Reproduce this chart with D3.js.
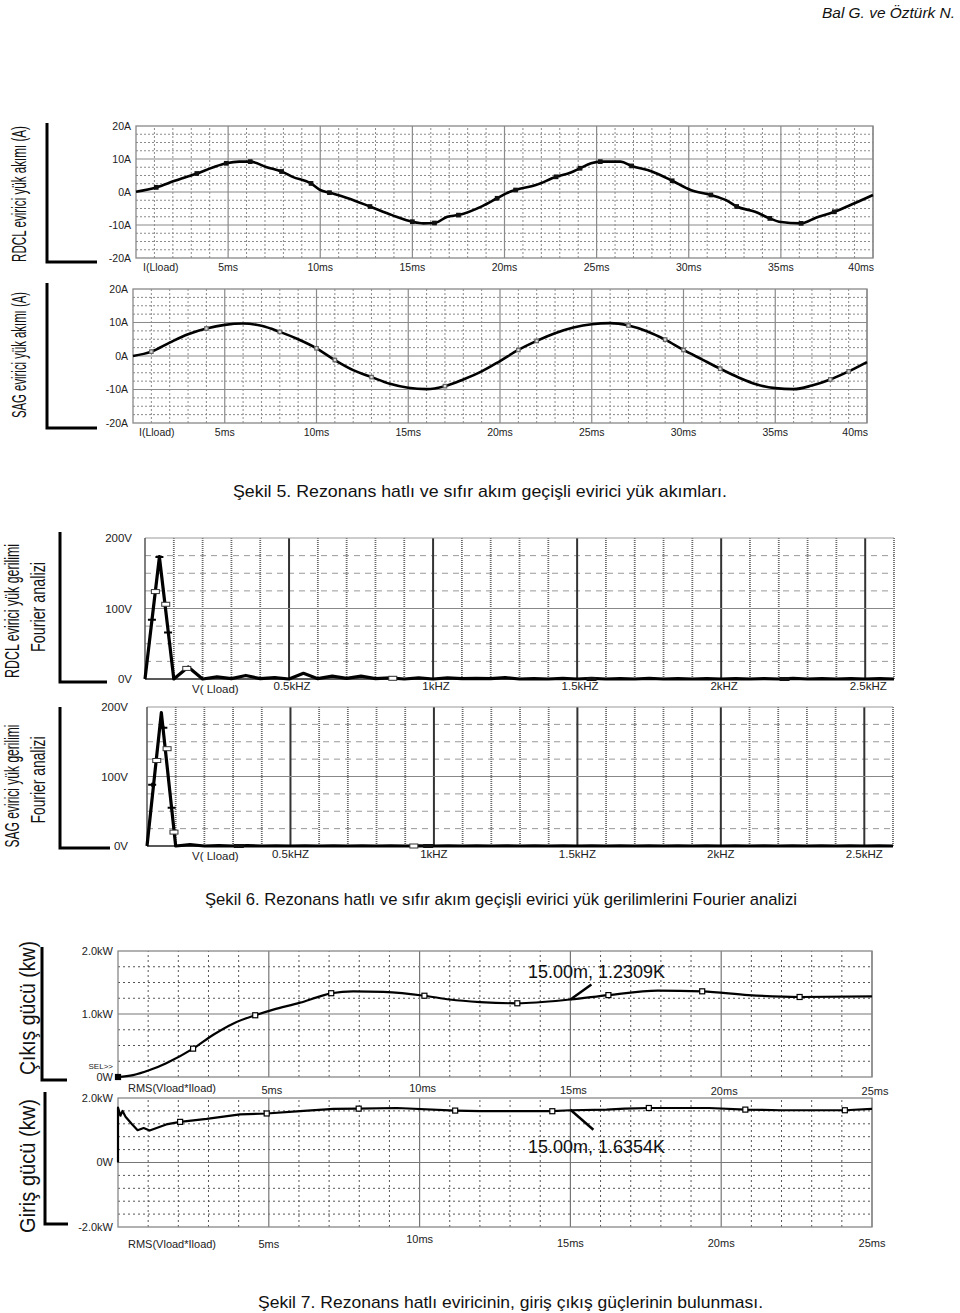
<!DOCTYPE html>
<html>
<head>
<meta charset="utf-8">
<script src="https://cdn.jsdelivr.net/npm/d3@7"></script>
<style>
  body { margin: 0; background: #fff; }
  svg { display: block; }
  text { font-family: Arial, "Liberation Sans", sans-serif; fill: #111; }
</style>
</head>
<body>
<script>
// ---- values ----

// Şekil 5, RDCL inverter load current (ms, A)
const rdclTime = [0, 1.1, 2.1, 3.3, 4.2, 4.9, 5.6, 6.2, 7.1, 7.9, 8.5, 9.5, 10, 10.5, 11.5, 12.7, 13.9, 15, 15.6, 16.2, 16.9, 17.5, 18.8,
                  19.6, 20.1, 20.6, 21.7, 22.8, 23.6, 24.1, 24.7, 25.2, 26.3, 26.9, 28, 29.1, 30.1, 31.2, 32, 32.6, 33.6, 34.4, 34.9, 36.1, 36.9, 37.9, 39, 40];
const rdclAmp  = [0.1, 1.4, 3.4, 5.6, 7.5, 8.7, 9.2, 9.2, 7.5, 6.2, 4.6, 2.6, 0.6, -0.2, -1.9, -4.4, -7, -9, -9.5, -9.4, -7.5, -7, -4.3,
                  -1.9, -0.4, 0.6, 2.1, 4.6, 5.9, 7.2, 8.7, 9.2, 9.2, 7.9, 6.2, 3.4, 0.6, -0.9, -2.4, -4.4, -6, -8, -9, -9.5, -7.8, -6, -3.4, -0.9];

// Şekil 5, SAG inverter load current (ms, A)
const sagTime = [0, 1, 2, 3, 4, 5, 6, 7, 8, 9, 10, 11, 12, 13, 14, 15, 16, 17, 18, 19, 20,
                 21, 22, 23, 24, 25, 26, 27, 28, 29, 30, 31, 32, 33, 34, 35, 36, 37, 38, 39, 40];
const sagAmp  = [0, 1.3, 4.0, 6.5, 8.2, 9.3, 9.7, 9.0, 7.2, 5.0, 2.3, -1.2, -4.2, -6.3, -8.3, -9.5, -9.9, -9.0, -7.0, -4.6, -1.5,
                 1.8, 4.5, 6.8, 8.5, 9.5, 9.8, 9.1, 7.4, 4.9, 1.8, -1.0, -3.8, -6.4, -8.5, -9.6, -9.9, -8.8, -7.0, -4.6, -1.8];
const sagMarkTime = [1, 4, 8, 10, 11, 13, 17, 21, 22, 27, 29, 30, 32, 38, 39];

// Şekil 6, Fourier spectra (kHz, V)
const freqKHz = [0, 0.05, 0.1, 0.15, 0.2, 0.25, 0.3, 0.35, 0.4, 0.45, 0.5, 0.55, 0.6, 0.65, 0.7, 0.75, 0.8, 0.85, 0.9, 0.95,
                 1, 1.05, 1.1, 1.15, 1.2, 1.25, 1.3, 1.35, 1.4, 1.45, 1.5, 1.55, 1.6, 1.65, 1.7, 1.75, 1.8, 1.85, 1.9, 1.95,
                 2, 2.05, 2.1, 2.15, 2.2, 2.25, 2.3, 2.35, 2.4, 2.45, 2.5, 2.55, 2.6];
const rdclVolt = [0, 173, 0, 17, 0, 3, 0.5, 5, 0.5, 2, 0, 8, 0.5, 4, 1, 4, 0.5, 1.5, 0, 1.5,
                  0, 1.5, 0.5, 1, 0.5, 2, 0, 0.5, 0, 1, 0, 1, 0, 0.5, 0, 1, 0, 0.5, 0, 0.5,
                  0, 0.5, 0, 0.5, 0, 1, 0, 0.5, 0, 0.5, 0, 0.5, 0];
const sagVolt  = [0, 192, 0, 2, 0, 0.5, 0, 0.5, 0, 0.3, 0, 0.3, 0, 0.3, 0, 0.3, 0, 0.3, 0, 0.3,
                  0, 0.3, 0, 0.3, 0, 0.3, 0, 0.3, 0, 0.3, 0, 0.3, 0, 0.3, 0, 0.3, 0, 0.3, 0, 0.3,
                  0, 0.3, 0, 0.3, 0, 0.3, 0, 0.3, 0, 0.3, 0, 0.3, 0];
// probe markers on the spectra: [kHz, V, kind]
const rdclSpecMarks = [[0.024, 84, "plus"], [0.036, 124, "box"], [0.05, 173, "plus"], [0.072, 106, "box"], [0.08, 66, "plus"], [0.145, 15, "box"], [0.86, 1, "box"], [1.55, 0, "bar"], [2.22, 0, "bar"]];
const sagSpecMarks  = [[0.018, 88, "plus"], [0.034, 123, "box"], [0.057, 170, "plus"], [0.07, 140, "box"], [0.086, 55, "plus"], [0.094, 20, "box"], [0.32, 0, "bar"], [0.93, 0, "box"], [0.98, 0, "bar"]];

// Şekil 7, RMS power (ms, kW)
const outTime = [0, 0.5, 1.05, 1.6, 2.49, 3.16, 3.83, 4.55, 5.15, 6.04, 6.7, 7.07, 7.8, 8.8, 10.16, 11, 12, 13.24, 15, 16.26, 17.9, 19.37, 20.9, 22.6, 25];
const outKW   = [0, 0.03, 0.11, 0.22, 0.45, 0.67, 0.85, 0.98, 1.07, 1.18, 1.28, 1.33, 1.36, 1.35, 1.29, 1.23, 1.19, 1.17, 1.23, 1.30, 1.37, 1.36, 1.30, 1.27, 1.28];
const outMarkTime = [0, 2.49, 4.55, 7.07, 10.16, 13.24, 16.26, 19.37, 22.6];
const inTime = [0, 0, 0.08, 0.15, 0.25, 0.45, 0.65, 0.85, 1.05, 1.6, 2.06, 2.94, 4.05, 4.93, 6.04, 7.15, 7.98, 9.25, 11.18, 12,
                13.8, 14.4, 15, 16.2, 16.8, 17.6, 19.6, 20.8, 22, 24.1, 25];
const inKW   = [0, 1.7, 1.45, 1.6, 1.42, 1.2, 1.0, 1.07, 0.99, 1.18, 1.26, 1.35, 1.49, 1.52, 1.59, 1.66, 1.67, 1.69, 1.61, 1.59,
                1.59, 1.59, 1.62, 1.64, 1.67, 1.69, 1.69, 1.64, 1.62, 1.62, 1.66];
const inMarkTime = [2.06, 4.93, 7.98, 11.18, 14.4, 17.6, 20.8, 24.1];
const cursorTime = 15, cursorOut = 1.2309, cursorIn = 1.6354;

// tick values and labels
const currentTickMs = [5, 10, 15, 20, 25, 30, 35, 40];
const currentTickLabels = ["5ms", "10ms", "15ms", "20ms", "25ms", "30ms", "35ms", "40ms"];
const currentYTicks = [20, 10, 0, -10, -20];
const currentYLabels = ["20A", "10A", "0A", "-10A", "-20A"];
const freqTicks = [0.5, 1, 1.5, 2, 2.5];
const freqTickLabels = ["0.5kHZ", "1kHZ", "1.5kHZ", "2kHZ", "2.5kHZ"];
const voltYTicks = [200, 100, 0];
const voltYLabels = ["200V", "100V", "0V"];
const powerTickMs = [5, 10, 15, 20, 25];
const powerTickLabels = ["5ms", "10ms", "15ms", "20ms", "25ms"];
const outYTicks = [2, 1, 0];
const outYLabels = ["2.0kW", "1.0kW", "0W"];
const inYTicks = [2, 0, -2];
const inYLabels = ["2.0kW", "0W", "-2.0kW"];

const svg = d3.select("body").append("svg")
    .attr("width", 960)
    .attr("height", 1313);

// grid line styles
const dotted = {stroke: "#8a8a8a", width: 1, dash: "2,2"};
const solidMajor = {stroke: "#8a8a8a", width: 1.2, dash: null};

function gridLines(g, values, horizontal, x, y, st) {
    g.selectAll(null)
        .data(values)
        .enter()
        .append("line")
        .attr("x1", d => horizontal ? x.range()[0] : x(d))
        .attr("x2", d => horizontal ? x.range()[1] : x(d))
        .attr("y1", d => horizontal ? y(d) : y.range()[0])
        .attr("y2", d => horizontal ? y(d) : y.range()[1])
        .attr("stroke", st.stroke)
        .attr("stroke-width", st.width)
        .attr("stroke-dasharray", st.dash);
}

// one oscilloscope style panel
function drawPanel(o) {
    const x = d3.scaleLinear().domain(o.xDomain).range([o.left, o.right]);
    const y = d3.scaleLinear().domain(o.yDomain).range([o.bottom, o.top]);
    const g = svg.append("g");

    const near = (arr, v) => arr.some(m => Math.abs(m - v) < 1e-6);
    const vMinor = d3.range(o.xDomain[0], o.xDomain[1] + 1e-6, o.xMinor).filter(v => !near(o.xMajor, v) && v > 1e-6);
    const hMinor = d3.range(o.yDomain[0], o.yDomain[1] + 1e-6, o.yMinor).filter(v => !near(o.yMajor, v));

    gridLines(g, vMinor, false, x, y, o.minorV || dotted);
    gridLines(g, hMinor, true, x, y, o.minorH || dotted);
    gridLines(g, o.xMajor, false, x, y, o.majorV || solidMajor);
    gridLines(g, o.yMajor.filter(v => v !== o.yDomain[0] && v !== o.yDomain[1]), true, x, y, o.majorH || solidMajor);

    // frame
    if (o.openFrame) {
        g.append("line").attr("x1", o.left).attr("x2", o.right).attr("y1", o.top).attr("y2", o.top)
            .attr("stroke", "#999").attr("stroke-width", 1.2);
        g.append("line").attr("x1", o.left).attr("x2", o.right).attr("y1", o.bottom).attr("y2", o.bottom)
            .attr("stroke", "#222").attr("stroke-width", 1.5);
        g.append("line").attr("x1", o.left).attr("x2", o.left).attr("y1", o.top).attr("y2", o.bottom)
            .attr("stroke", "#555").attr("stroke-width", 1.5);
    } else {
        g.append("rect")
            .attr("x", o.left).attr("y", o.top)
            .attr("width", o.right - o.left).attr("height", o.bottom - o.top)
            .attr("fill", "none").attr("stroke", "#888").attr("stroke-width", 1.3);
    }

    // trace
    const line = d3.line()
        .x(d => x(d[0]))
        .y(d => y(d[1]))
        .curve(o.curve || d3.curveLinear);
    g.append("path")
        .datum(d3.zip(o.xs, o.ys))
        .attr("fill", "none")
        .attr("stroke", "#000")
        .attr("stroke-width", o.lineWidth || 2.2)
        .attr("stroke-linejoin", "round")
        .attr("d", line);

    // y tick labels
    g.selectAll(null)
        .data(o.yTicks)
        .enter()
        .append("text")
        .attr("x", o.left - o.yLabelGap)
        .attr("y", d => y(d))
        .attr("dy", "0.35em")
        .attr("text-anchor", "end")
        .attr("font-size", o.tickSize)
        .style("fill", "#222")
        .text((d, i) => o.yLabels[i]);

    // x tick labels
    g.selectAll(null)
        .data(o.xTicks)
        .enter()
        .append("text")
        .attr("x", (d, i) => i === o.xTicks.length - 1 && o.lastEnd ? o.right + 1 : x(d) + (o.xLabelShift || 0))
        .attr("y", (d, i) => o.xLabelY + (o.xLabelDy ? o.xLabelDy[i] : 0))
        .attr("text-anchor", (d, i) => i === o.xTicks.length - 1 && o.lastEnd ? "end" : "middle")
        .attr("font-size", o.tickSize)
        .style("fill", "#222")
        .text((d, i) => o.xLabels[i]);

    // trace name under the axis
    g.append("text")
        .attr("x", o.nameX)
        .attr("y", o.nameY)
        .attr("font-size", o.tickSize)
        .style("fill", "#222")
        .text(o.name);

    return {x, y, g};
}

// bracket + rotated axis title at left
function bracket(xLine, yTop, yBottom, xEnd) {
    svg.append("path")
        .attr("d", `M${xLine},${yTop}V${yBottom}H${xEnd}`)
        .attr("fill", "none")
        .attr("stroke", "#000")
        .attr("stroke-width", 3);
}

function sideTitle(txt, cx, cy, size, len) {
    svg.append("text")
        .attr("transform", `translate(${cx},${cy}) rotate(-90)`)
        .attr("text-anchor", "middle")
        .attr("dominant-baseline", "central")
        .attr("font-size", size)
        .attr("textLength", len)
        .attr("lengthAdjust", "spacingAndGlyphs")
        .text(txt);
}

function squares(g, pts, x, y, size, fill, stroke) {
    g.selectAll(null)
        .data(pts)
        .enter()
        .append("rect")
        .attr("x", d => x(d[0]) - size / 2)
        .attr("y", d => y(d[1]) - size / 2)
        .attr("width", size)
        .attr("height", size)
        .attr("fill", fill)
        .attr("stroke", stroke)
        .attr("stroke-width", 1.2);
}

function specMarks(p, marks) {
    marks.forEach(m => {
        const cx = p.x(m[0]), cy = p.y(m[1]);
        if (m[2] === "box") {
            p.g.append("rect").attr("x", cx - 4).attr("y", cy - 2).attr("width", 8).attr("height", 4)
                .attr("fill", "#fff").attr("stroke", "#333").attr("stroke-width", 1);
        } else if (m[2] === "plus") {
            p.g.append("path").attr("d", `M${cx - 4},${cy}H${cx + 4}M${cx},${cy - 2}V${cy + 2}`)
                .attr("stroke", "#000").attr("stroke-width", 2);
        } else {
            p.g.append("rect").attr("x", cx - 5).attr("y", cy - 2).attr("width", 10).attr("height", 4)
                .attr("fill", "#111");
        }
    });
}

// ---------- header ----------
svg.append("text")
    .attr("x", 955).attr("y", 18)
    .attr("text-anchor", "end")
    .attr("font-size", 15)
    .attr("font-style", "italic")
    .attr("textLength", 133)
    .attr("lengthAdjust", "spacingAndGlyphs")
    .text("Bal G. ve Öztürk N.");

// ---------- Şekil 5 ----------
const p1 = drawPanel({
    left: 136, right: 873, top: 126, bottom: 258,
    xDomain: [0, 40], yDomain: [-20, 20], xMinor: 1, yMinor: 2.5,
    xMajor: currentTickMs, yMajor: currentYTicks,
    xs: rdclTime, ys: rdclAmp, curve: d3.curveMonotoneX, lineWidth: 2.6,
    yTicks: currentYTicks, yLabels: currentYLabels, yLabelGap: 5, tickSize: 10.5,
    xTicks: currentTickMs, xLabels: currentTickLabels, xLabelY: 271, lastEnd: true,
    name: "I(Lload)", nameX: 143, nameY: 271
});
squares(p1.g, d3.zip(rdclTime, rdclAmp).slice(1, -1).filter((d, i) => i % 2 === 0), p1.x, p1.y, 3.5, "#111", "#111");
bracket(47, 123, 262, 97);
sideTitle("RDCL evirici yük akımı (A)", 18, 194, 21, 136);

const p2 = drawPanel({
    left: 133, right: 867, top: 289, bottom: 423,
    xDomain: [0, 40], yDomain: [-20, 20], xMinor: 1, yMinor: 2.5,
    xMajor: currentTickMs, yMajor: currentYTicks,
    xs: sagTime, ys: sagAmp, curve: d3.curveMonotoneX, lineWidth: 2.6,
    yTicks: currentYTicks, yLabels: currentYLabels, yLabelGap: 5, tickSize: 10.5,
    xTicks: currentTickMs, xLabels: currentTickLabels, xLabelY: 436, lastEnd: true,
    name: "I(Lload)", nameX: 139, nameY: 436
});
squares(p2.g, sagMarkTime.map(t => [t, sagAmp[sagTime.indexOf(t)]]), p2.x, p2.y, 3.5, "#ddd", "#666");
bracket(47, 283, 428, 97);
sideTitle("SAG evirici yük akımı (A)", 18, 355, 21, 126);

svg.append("text")
    .attr("x", 233).attr("y", 497)
    .attr("font-size", 17)
    .attr("textLength", 494)
    .attr("lengthAdjust", "spacingAndGlyphs")
    .text("Şekil 5. Rezonans hatlı ve sıfır akım geçişli evirici yük akımları.");

// ---------- Şekil 6 ----------
const specMinorV = {stroke: "#666", width: 1.8, dash: "1,1"};
const specMinorH = {stroke: "#999", width: 1, dash: "6,5"};
const specMajorV = {stroke: "#333", width: 2, dash: null};
const specMajorH = {stroke: "#888", width: 1, dash: null};

const p3 = drawPanel({
    left: 145, right: 894, top: 538, bottom: 679,
    xDomain: [0, 2.6], yDomain: [0, 200], xMinor: 0.1, yMinor: 25,
    xMajor: freqTicks, yMajor: voltYTicks, openFrame: true,
    minorV: specMinorV, minorH: specMinorH, majorV: specMajorV, majorH: specMajorH,
    xs: freqKHz, ys: rdclVolt, lineWidth: 3.2,
    yTicks: voltYTicks, yLabels: voltYLabels, yLabelGap: 13, tickSize: 11.5,
    xTicks: freqTicks, xLabels: freqTickLabels, xLabelY: 690, xLabelShift: 3,
    name: "V( Lload)", nameX: 192, nameY: 693
});
specMarks(p3, rdclSpecMarks);
bracket(60, 532, 682, 107);
sideTitle("RDCL evirici yük gerilimi", 11, 611, 21, 134);
sideTitle("Fourier analizi", 37, 607, 21, 90);

const p4 = drawPanel({
    left: 147, right: 893, top: 707, bottom: 846,
    xDomain: [0, 2.6], yDomain: [0, 200], xMinor: 0.1, yMinor: 25,
    xMajor: freqTicks, yMajor: voltYTicks, openFrame: true,
    minorV: specMinorV, minorH: specMinorH, majorV: specMajorV, majorH: specMajorH,
    xs: freqKHz, ys: sagVolt, lineWidth: 3.2,
    yTicks: voltYTicks, yLabels: voltYLabels, yLabelGap: 19, tickSize: 11.5,
    xTicks: freqTicks, xLabels: freqTickLabels, xLabelY: 858,
    name: "V( Lload)", nameX: 192, nameY: 860
});
specMarks(p4, sagSpecMarks);
bracket(60, 707, 848, 110);
sideTitle("SAG evirici yük gerilimi", 11, 786, 21, 123);
sideTitle("Fourier analizi", 37, 780, 21, 87);

svg.append("text")
    .attr("x", 205).attr("y", 905)
    .attr("font-size", 17)
    .attr("textLength", 592)
    .attr("lengthAdjust", "spacingAndGlyphs")
    .text("Şekil 6. Rezonans hatlı ve sıfır akım geçişli evirici yük gerilimlerini Fourier analizi");

// ---------- Şekil 7 ----------
const powerDot = {stroke: "#555", width: 1, dash: "2,3"};
const powerMajor = {stroke: "#777", width: 1.2, dash: null};

const p5 = drawPanel({
    left: 118, right: 872, top: 951, bottom: 1077,
    xDomain: [0, 25], yDomain: [0, 2], xMinor: 1, yMinor: 0.25,
    xMajor: powerTickMs, yMajor: outYTicks,
    minorV: powerDot, minorH: powerDot, majorV: powerMajor, majorH: powerMajor,
    xs: outTime, ys: outKW, curve: d3.curveMonotoneX, lineWidth: 2.2,
    yTicks: outYTicks, yLabels: outYLabels, yLabelGap: 5, tickSize: 11,
    xTicks: powerTickMs, xLabels: powerTickLabels, xLabelY: 1094, xLabelShift: 3,
    xLabelDy: [0, -2, 0, 1, 1],
    name: "RMS(Vload*Iload)", nameX: 128, nameY: 1092
});
squares(p5.g, outMarkTime.slice(1).map(t => [t, outKW[outTime.indexOf(t)]]), p5.x, p5.y, 5, "#fff", "#000");
squares(p5.g, [[outMarkTime[0], outKW[0]]], p5.x, p5.y, 5, "#000", "#000");
svg.append("text").attr("x", 113).attr("y", 1069).attr("text-anchor", "end")
    .attr("font-size", 8).style("fill", "#222").text("SEL>>");

// cursor readout, output power
svg.append("path")
    .attr("d", `M${p5.x(cursorTime)},${p5.y(cursorOut)}l21,-15`)
    .attr("stroke", "#000").attr("stroke-width", 2.4);
svg.append("text")
    .attr("x", 528).attr("y", 978)
    .attr("font-size", 18)
    .text(`${cursorTime.toFixed(2)}m, ${cursorOut.toFixed(4)}K`);
bracket(42, 947, 1080, 67);
sideTitle("Çıkış gücü (kw)", 27, 1008, 22, 134);

const p6 = drawPanel({
    left: 118, right: 872, top: 1098, bottom: 1227,
    xDomain: [0, 25], yDomain: [-2, 2], xMinor: 1, yMinor: 0.4,
    xMajor: powerTickMs, yMajor: inYTicks,
    minorV: powerDot, minorH: powerDot, majorV: powerMajor, majorH: powerMajor,
    xs: inTime, ys: inKW, lineWidth: 2.2,
    yTicks: inYTicks, yLabels: inYLabels, yLabelGap: 5, tickSize: 11,
    xTicks: powerTickMs, xLabels: powerTickLabels, xLabelY: 1248,
    xLabelDy: [0, -5, -1, -1, -1],
    name: "RMS(Vload*Iload)", nameX: 128, nameY: 1248
});
squares(p6.g, inMarkTime.map(t => [t, inKW[inTime.indexOf(t)]]), p6.x, p6.y, 5, "#fff", "#000");

// cursor readout, input power
svg.append("path")
    .attr("d", `M${p6.x(cursorTime)},${p6.y(cursorIn)}l23,20`)
    .attr("stroke", "#000").attr("stroke-width", 2.4);
svg.append("text")
    .attr("x", 528).attr("y", 1153)
    .attr("font-size", 18)
    .text(`${cursorTime.toFixed(2)}m, ${cursorIn.toFixed(4)}K`);
bracket(45, 1092, 1224, 68);
sideTitle("Giriş gücü (kw)", 27, 1166, 22, 134);

svg.append("text")
    .attr("x", 258).attr("y", 1308)
    .attr("font-size", 17)
    .attr("textLength", 505)
    .attr("lengthAdjust", "spacingAndGlyphs")
    .text("Şekil 7. Rezonans hatlı eviricinin, giriş çıkış güçlerinin bulunması.");
</script>
</body>
</html>
